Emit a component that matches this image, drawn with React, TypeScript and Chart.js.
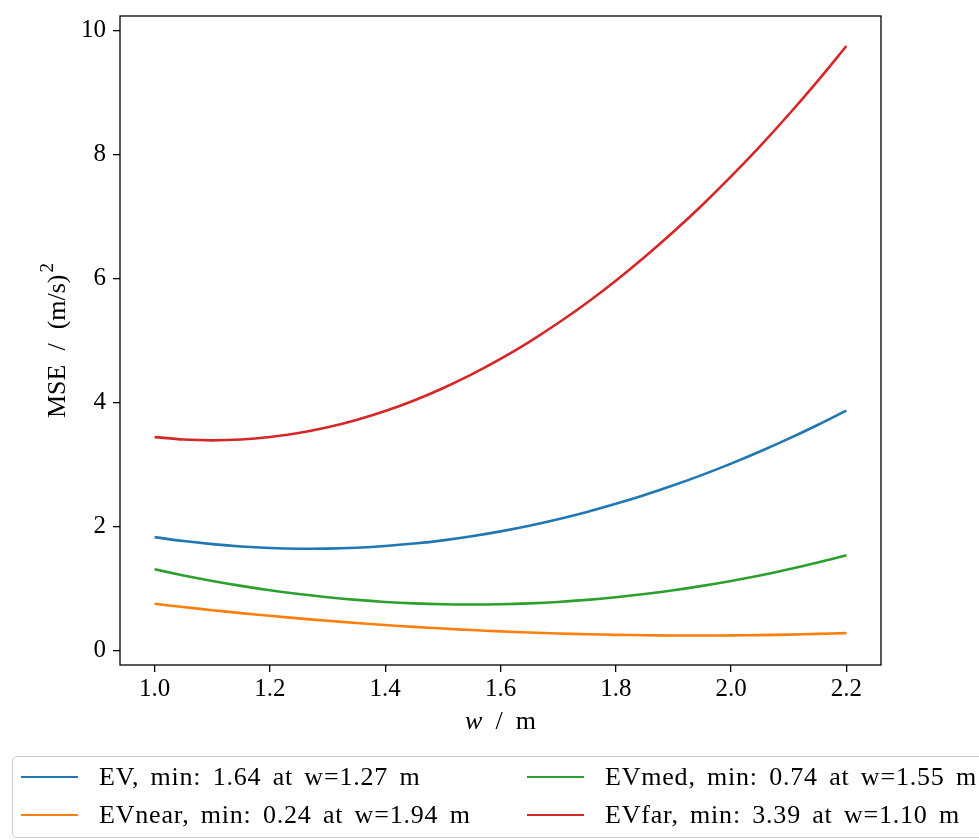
import React, { useEffect, useRef } from 'react';
import { Chart, registerables } from 'chart.js';

Chart.register(...registerables);

// Window width w in metres (x axis)
const wValues = [
  1.0, 1.05, 1.1, 1.15, 1.2, 1.25, 1.3, 1.35, 1.4, 1.45, 1.5, 1.55, 1.6,
  1.65, 1.7, 1.75, 1.8, 1.85, 1.9, 1.95, 2.0, 2.05, 2.1, 2.15, 2.2,
];

// MSE values, (m/s)^2
const evValues = [
  1.828, 1.765, 1.715, 1.677, 1.653, 1.641, 1.642, 1.657, 1.684, 1.724, 1.776, 1.842, 1.921,
  2.013, 2.117, 2.234, 2.365, 2.508, 2.664, 2.833, 3.015, 3.21, 3.417, 3.638, 3.871,
];
const evNearValues = [
  0.752, 0.699, 0.649, 0.602, 0.558, 0.516, 0.478, 0.442, 0.409, 0.379, 0.352, 0.328, 0.307,
  0.289, 0.273, 0.261, 0.251, 0.245, 0.241, 0.24, 0.242, 0.247, 0.255, 0.266, 0.279,
];
const evMedValues = [
  1.309, 1.21, 1.121, 1.041, 0.97, 0.909, 0.858, 0.815, 0.782, 0.759, 0.745, 0.74, 0.745,
  0.759, 0.782, 0.815, 0.858, 0.909, 0.97, 1.041, 1.121, 1.21, 1.309, 1.417, 1.534,
];
const evFarValues = [
  3.443, 3.403, 3.39, 3.403, 3.443, 3.508, 3.6, 3.719, 3.863, 4.034, 4.232, 4.455, 4.705,
  4.981, 5.284, 5.612, 5.967, 6.349, 6.756, 7.19, 7.651, 8.137, 8.65, 9.189, 9.755,
];

const seriesLabels = [
  'EV, min: 1.64 at w=1.27 m',
  'EVnear, min: 0.24 at w=1.94 m',
  'EVmed, min: 0.74 at w=1.55 m',
  'EVfar, min: 3.39 at w=1.10 m',
];
const seriesColors = ['#1f77b4', '#ff7f0e', '#2ca02c', '#d62728'];

const xTicks = [1.0, 1.2, 1.4, 1.6, 1.8, 2.0, 2.2];
const yTicks = [0, 2, 4, 6, 8, 10];

const FONT_FAMILY = "'Liberation Serif', 'Times New Roman', serif";
const TICK_SIZE = 25;
const TEXT_SIZE = 26;

type Piece = { text: string; font: string; gap: number; dy: number };

function drawPieces(ctx: CanvasRenderingContext2D, pieces: Piece[], cx: number, cy: number) {
  let total = 0;
  const widths = pieces.map((p) => {
    ctx.font = p.font;
    const w = ctx.measureText(p.text).width;
    total += w + p.gap;
    return w;
  });
  let x = cx - total / 2;
  pieces.forEach((p, i) => {
    x += p.gap;
    ctx.font = p.font;
    ctx.fillText(p.text, x, cy + p.dy);
    x += widths[i];
  });
}

const framePlugin = {
  id: 'frameAndTitles',
  afterDraw(chart: any) {
    const { ctx, chartArea: a } = chart;
    ctx.save();
    ctx.strokeStyle = '#000';
    ctx.lineWidth = 1.3;
    ctx.strokeRect(a.left, a.top, a.right - a.left, a.bottom - a.top);

    ctx.fillStyle = '#000';
    ctx.textBaseline = 'middle';
    ctx.textAlign = 'left';
    const base = `${TEXT_SIZE}px ${FONT_FAMILY}`;
    const ital = `italic ${TEXT_SIZE}px ${FONT_FAMILY}`;
    const sup = `19px ${FONT_FAMILY}`;

    // x title: italic w / m
    drawPieces(
      ctx,
      [
        { text: 'w', font: ital, gap: 0, dy: 0 },
        { text: '/', font: base, gap: 13, dy: 0 },
        { text: 'm', font: base, gap: 13, dy: 0 },
      ],
      (a.left + a.right) / 2,
      722
    );

    // y title: MSE / (m/s)^2
    ctx.translate(58, (a.top + a.bottom) / 2);
    ctx.rotate(-Math.PI / 2);
    drawPieces(
      ctx,
      [
        { text: 'MSE', font: base, gap: 0, dy: 0 },
        { text: '/', font: base, gap: 14, dy: 0 },
        { text: '(m/s)', font: base, gap: 14, dy: 0 },
        { text: '2', font: sup, gap: 2, dy: -10 },
      ],
      0,
      0
    );
    ctx.restore();
  },
};

export default function App() {
  const canvasRef = useRef<HTMLCanvasElement | null>(null);

  useEffect(() => {
    const canvas = canvasRef.current;
    if (!canvas) return;
    const all = [evValues, evNearValues, evMedValues, evFarValues];
    const datasets = all.map((vals, i) => ({
      label: seriesLabels[i],
      data: vals.map((v, j) => ({ x: wValues[j], y: v })),
      borderColor: seriesColors[i],
      backgroundColor: seriesColors[i],
      borderWidth: 2.6,
      pointRadius: 0,
      tension: 0.3,
      fill: false,
    }));
    const tickFont = { family: FONT_FAMILY, size: TICK_SIZE };
    const chart = new Chart(canvas, {
      type: 'line',
      data: { datasets },
      options: {
        responsive: false,
        animation: false,
        layout: { padding: { left: 0, top: 16, right: 98, bottom: 0 } },
        plugins: { legend: { display: false }, tooltip: { enabled: false } },
        scales: {
          x: {
            type: 'linear',
            min: 0.94,
            max: 2.26,
            border: { display: false },
            grid: {
              display: true,
              drawOnChartArea: false,
              drawTicks: true,
              tickLength: 7,
              color: '#000',
              lineWidth: 1.3,
            },
            ticks: {
              font: tickFont,
              color: '#000',
              padding: 2,
              maxRotation: 0,
              autoSkip: false,
              callback: (v: any) => Number(v).toFixed(1),
            },
            afterBuildTicks: (scale: any) => {
              scale.ticks = xTicks.map((v) => ({ value: v }));
            },
            afterFit: (scale: any) => {
              scale.height = 175;
              scale.paddingLeft = 0;
              scale.paddingRight = 0;
            },
          },
          y: {
            type: 'linear',
            min: -0.236,
            max: 10.24,
            border: { display: false },
            grid: {
              display: true,
              drawOnChartArea: false,
              drawTicks: true,
              tickLength: 7,
              color: '#000',
              lineWidth: 1.3,
            },
            ticks: {
              font: tickFont,
              color: '#000',
              padding: 7,
              autoSkip: false,
              callback: (v: any) => String(Math.round(Number(v))),
            },
            afterBuildTicks: (scale: any) => {
              scale.ticks = yTicks.map((v) => ({ value: v }));
            },
            afterFit: (scale: any) => {
              scale.width = 120;
              scale.paddingTop = 0;
              scale.paddingBottom = 0;
            },
          },
        },
      },
      plugins: [framePlugin],
    });
    return () => chart.destroy();
  }, []);

  const legendCols = [
    { left: 21, textLeft: 99, items: [0, 1] },
    { left: 527, textLeft: 605, items: [2, 3] },
  ];
  const rowCenters = [777, 815];

  return (
    <div
      style={{
        position: 'absolute',
        left: 0,
        top: 0,
        width: 979,
        height: 840,
        overflow: 'hidden',
        background: '#fff',
      }}
    >
      <canvas ref={canvasRef} width={979} height={840} style={{ position: 'absolute', left: 0, top: 0 }} />
      <div
        style={{
          position: 'absolute',
          left: 12,
          top: 756,
          width: 990,
          height: 82,
          border: '1.3px solid #cccccc',
          borderRadius: 5,
          boxSizing: 'border-box',
        }}
      />
      {legendCols.map((col) =>
        col.items.map((idx, r) => (
          <React.Fragment key={idx}>
            <div
              style={{
                position: 'absolute',
                left: col.left,
                top: rowCenters[r] - 1.3,
                width: 57,
                height: 2.6,
                background: seriesColors[idx],
              }}
            />
            <div
              style={{
                position: 'absolute',
                left: col.textLeft,
                top: rowCenters[r] - 16,
                height: 32,
                lineHeight: '32px',
                fontFamily: FONT_FAMILY,
                fontSize: TEXT_SIZE,
                whiteSpace: 'nowrap',
                color: '#000',
                wordSpacing: 4,
                letterSpacing: 0.8,
              }}
            >
              {seriesLabels[idx]}
            </div>
          </React.Fragment>
        ))
      )}
    </div>
  );
}
